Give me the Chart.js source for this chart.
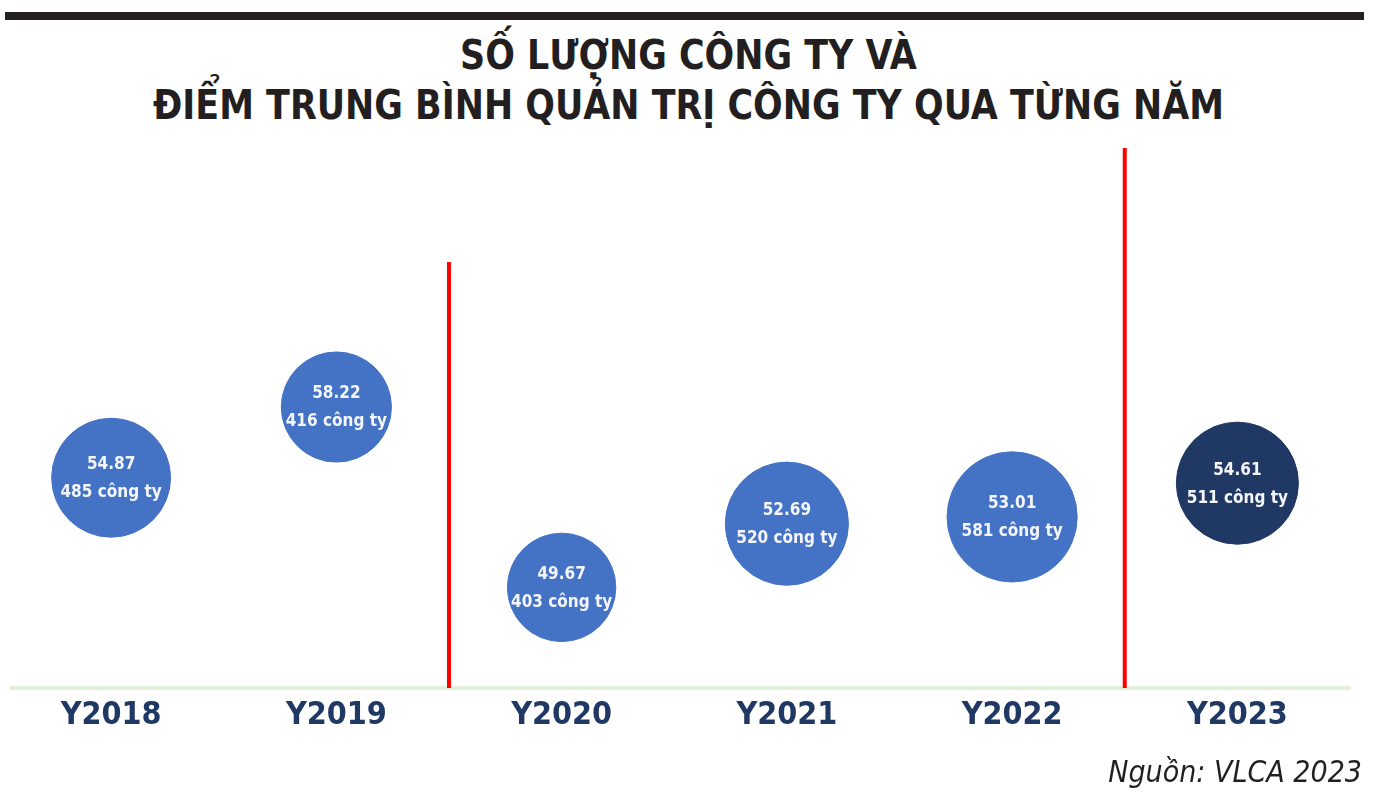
<!DOCTYPE html>
<html lang="vi">
<head>
<meta charset="utf-8">
<title>Số lượng công ty và điểm trung bình quản trị công ty qua từng năm</title>
<script src="https://cdn.jsdelivr.net/npm/chart.js@4.4.1/dist/chart.umd.min.js"></script>
<style>
  html, body { margin: 0; padding: 0; background: #fff; }
  .page { position: relative; width: 1391px; height: 802px; overflow: hidden; }
  .top-rule { position: absolute; left: 5px; top: 12px; width: 1359px; height: 8px; background: #231f20; }
  .title {
    position: absolute; left: -7px; top: 30px; width: 1391px; margin: 0;
    text-align: center; color: #231f20;
    font-family: 'DejaVu Sans Condensed', 'DejaVu Sans', sans-serif;
    font-weight: bold; font-size: 40px; line-height: 50px;
    transform: scaleX(0.97);
  }
  .chart-box { position: absolute; left: 0; top: 0; width: 1391px; height: 802px; }
  .source {
    position: absolute; right: 29px; top: 754px; color: #231f20;
    font-family: 'DejaVu Sans Condensed', 'DejaVu Sans', sans-serif;
    font-style: italic; font-size: 30px;
  }
</style>
</head>
<body>
<div class="page">
  <div class="top-rule"></div>
  <h1 class="title">SỐ LƯỢNG CÔNG TY VÀ<br>ĐIỂM TRUNG BÌNH QUẢN TRỊ CÔNG TY QUA TỪNG NĂM</h1>
  <div class="chart-box"><canvas id="chart"></canvas></div>
  <div class="source">Nguồn: VLCA 2023</div>
</div>
<script>
/* ── Data ── */
const years  = ['Y2018', 'Y2019', 'Y2020', 'Y2021', 'Y2022', 'Y2023'];
const scores = [54.87, 58.22, 49.67, 52.69, 53.01, 54.61];
const counts = [485, 416, 403, 520, 581, 511];

// red dividers sit between categories (x index) and reach up to a score level
const dividerX   = [1.5, 4.5];
const dividerTop = [65.1, 70.5];

/* ── Scale settings ── */
const Y_MIN = 44.9;
const Y_MAX = 70.5;
const X_MIN = -0.44;
const X_MAX = 5.5;
const BUBBLE_K = 2.7;   // radius = k * sqrt(company count)

const BLUE  = '#4472c4';
const NAVY  = '#1f3864';
const RED   = '#ff0000';

/* ── Labels inside bubbles ── */
const bubbleLabels = {
  id: 'bubbleLabels',
  afterDatasetsDraw(chart) {
    const idx = chart.data.datasets.findIndex(d => d.type === 'bubble');
    const meta = chart.getDatasetMeta(idx);
    const ctx = chart.ctx;
    ctx.save();
    ctx.fillStyle = '#f4f6fb';
    ctx.textAlign = 'center';
    ctx.textBaseline = 'middle';
    ctx.font = 'bold 17px "DejaVu Sans Condensed", "DejaVu Sans", sans-serif';
    meta.data.forEach((pt, i) => {
      ctx.fillText(scores[i].toFixed(2), pt.x, pt.y - 13);
      ctx.fillText(counts[i] + ' công ty', pt.x, pt.y + 15);
    });
    ctx.restore();
  }
};

const dividerSets = dividerX.map((x, i) => ({
  type: 'line',
  data: [{ x: x, y: Y_MIN }, { x: x, y: dividerTop[i] }],
  borderColor: RED,
  borderWidth: 4,
  pointRadius: 0,
  fill: false
}));

new Chart(document.getElementById('chart'), {
  data: {
    datasets: [
      ...dividerSets,
      {
        type: 'bubble',
        data: years.map((_, i) => ({ x: i, y: scores[i], r: BUBBLE_K * Math.sqrt(counts[i]) })),
        backgroundColor: ctx => ctx.dataIndex === years.length - 1 ? NAVY : BLUE,
        borderColor: ctx => ctx.dataIndex === years.length - 1 ? NAVY : BLUE,
        borderWidth: 1,
        clip: false
      }
    ]
  },
  options: {
    responsive: true,
    maintainAspectRatio: false,
    animation: false,
    events: [],
    layout: { autoPadding: false, padding: { top: 148, left: 12, right: 41, bottom: 74 } },
    plugins: {
      legend: { display: false },
      tooltip: { enabled: false }
    },
    scales: {
      x: {
        type: 'linear',
        min: X_MIN,
        max: X_MAX,
        afterBuildTicks: scale => { scale.ticks = years.map((_, i) => ({ value: i })); },
        afterFit: scale => {
          scale.height = 40;
          scale.paddingLeft = 0;
          scale.paddingRight = 0;
        },
        grid: { display: false, drawTicks: false },
        border: { display: true, color: '#e2efd9', width: 4 },
        ticks: {
          autoSkip: false,
          maxRotation: 0,
          padding: 8,
          color: NAVY,
          font: { family: '"DejaVu Sans Condensed", "DejaVu Sans", sans-serif', size: 32, weight: 'bold' },
          callback: v => years[v]
        }
      },
      y: {
        display: false,
        min: Y_MIN,
        max: Y_MAX
      }
    }
  },
  plugins: [bubbleLabels]
});
</script>
</body>
</html>
